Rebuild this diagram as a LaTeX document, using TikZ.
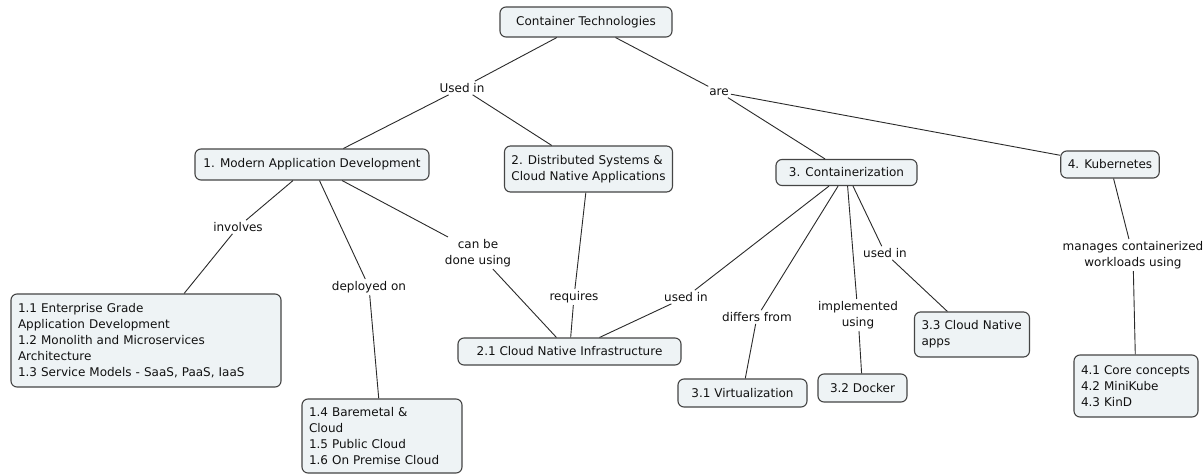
\documentclass[tikz,border=0pt]{standalone}
\usepackage{fontspec}
\setmainfont{DejaVu Sans}
\definecolor{boxfill}{HTML}{EEF3F5}
\definecolor{boxline}{HTML}{454545}
\definecolor{txt}{HTML}{111111}
\definecolor{conn}{HTML}{2A2A2A}
\newcommand{\mynohyph}{\hyphenpenalty=10000 \exhyphenpenalty=10000 \relax}
\begin{document}
\begin{tikzpicture}[x=1pt,y=-1pt,
  cbox/.style={draw=boxline, fill=boxfill, rounded corners=6pt, line width=1.1pt,
    font={\fontsize{12}{16}\selectfont\mynohyph}, text=txt, inner xsep=7pt, inner ysep=5pt},
  mbox/.style={cbox, align=left, text width=#1},
  lbl/.style={font={\fontsize{12}{16}\selectfont}, text=txt, inner sep=2pt, align=center},
  conline/.style={draw=conn, line width=0.9pt}]
\useasboundingbox (0,0) rectangle (1203,474);
\fill[white] (0,0) rectangle (1203,474);
% concepts
\node[cbox, minimum width=172pt, minimum height=30pt] (root) at (586,22) {Container Technologies};
\node[cbox, minimum width=234pt, minimum height=31pt] (n1) at (312,164.5) {1. Modern Application Development};
\node[cbox, align=left, minimum height=46pt] (n2) at (588.5,169) {2. Distributed Systems \&\\Cloud Native Applications};
\node[cbox, minimum width=141pt, minimum height=26pt] (n3) at (846.5,172.5) {3. Containerization};
\node[cbox, minimum width=92pt, minimum height=27pt] (n4) at (1110,164.5) {4. Kubernetes};
\node[mbox=256pt, minimum height=93pt] (n11) at (146,340.5) {1.1 Enterprise Grade\\Application Development\\1.2 Monolith and Microservices\\Architecture\\1.3 Service Models - SaaS, PaaS, IaaS};
\node[mbox=146pt, minimum height=74pt] (n14) at (382,436) {1.4 Baremetal \&\\Cloud\\1.5 Public Cloud\\1.6 On Premise Cloud};
\node[cbox, minimum width=223pt, minimum height=27pt] (n21) at (569.5,351.5) {2.1 Cloud Native Infrastructure};
\node[cbox, minimum width=129pt, minimum height=28pt] (n31) at (742.5,393) {3.1 Virtualization};
\node[cbox, minimum width=89pt, minimum height=28pt] (n32) at (862.5,388) {3.2 Docker};
\node[mbox=101pt, minimum height=45pt] (n33) at (972,334.5) {3.3 Cloud Native\\apps};
\node[mbox=110pt, minimum height=62pt] (n41) at (1136,386) {4.1 Core concepts\\4.2 MiniKube\\4.3 KinD};
% linking phrases
\node[lbl] (usedin) at (462,88) {Used in};
\node[lbl] (are) at (719,92) {are};
\node[lbl] (involves) at (238,227) {involves};
\node[lbl] (deployed) at (369,287) {deployed on};
\node[lbl] (canbe) at (478,253) {can be\\done using};
\node[lbl] (requires) at (574,297) {requires};
\node[lbl] (usedintwo) at (686,297) {used in};
\node[lbl] (differs) at (757,317) {differs from};
\node[lbl] (impl) at (858,315) {implemented\\using};
\node[lbl] (usedinthree) at (885,253) {used in};
\node[lbl] (manages) at (1133,255) {manages containerized\\workloads using};
% connectors
\draw[conline] (root) -- (usedin);
\draw[conline] (usedin) -- (n1);
\draw[conline] (usedin) -- (n2);
\draw[conline] (root) -- (are);
\draw[conline] (are) -- (n3);
\draw[conline] (are) -- (n4);
\draw[conline] (n1) -- (involves);
\draw[conline] (involves) -- (n11);
\draw[conline] (n1) -- (deployed);
\draw[conline] (deployed) -- (n14);
\draw[conline] (n1) -- (canbe);
\draw[conline] (canbe) -- (n21);
\draw[conline] (n2) -- (requires);
\draw[conline] (requires) -- (n21);
\draw[conline] (n3) -- (usedintwo);
\draw[conline] (usedintwo) -- (n21);
\draw[conline] (n3) -- (differs);
\draw[conline] (differs) -- (n31);
\draw[conline] (n3) -- (impl);
\draw[conline] (impl) -- (n32);
\draw[conline] (n3) -- (usedinthree);
\draw[conline] (usedinthree) -- (n33);
\draw[conline] (n4) -- (manages);
\draw[conline] (manages) -- (n41);
\end{tikzpicture}
\end{document}
